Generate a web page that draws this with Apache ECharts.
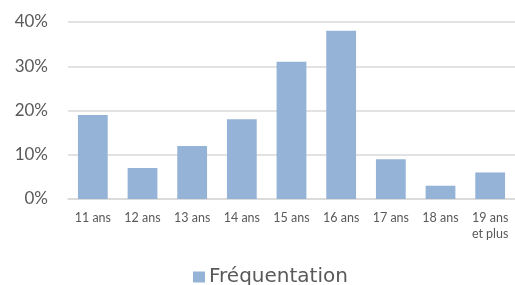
<!DOCTYPE html>
<html><head><meta charset="utf-8">
<script src="https://cdn.jsdelivr.net/npm/echarts@6/dist/echarts.min.js"></script>
<style>html,body{margin:0;padding:0;background:#fff}#c{width:515px;height:285px}</style>
</head><body><div id="c"></div>
<script>
const categories = ['11 ans','12 ans','13 ans','14 ans','15 ans','16 ans','17 ans','18 ans','19 ans\net plus'];
const values = [19, 7, 12, 18, 31, 38, 9, 3, 6];
const seriesName = 'Fréquentation';
const yTicks = [0, 10, 20, 30, 40];

const chart = echarts.init(document.getElementById('c'));
chart.setOption({
  animation: false,
  textStyle: {fontFamily: 'Lato, "DejaVu Sans", sans-serif'},
  grid: {left: 68, top: 22, width: 450, height: 177},
  legend: {
    data: [seriesName], top: 267, left: 193, icon: 'rect',
    itemWidth: 12, itemHeight: 11, itemGap: 5, padding: 0,
    textStyle: {fontSize: 20, color: '#595959', fontFamily: '"DejaVu Sans", sans-serif', padding: [2,0,0,-1]}
  },
  xAxis: {
    type: 'category', data: categories,
    axisLine: {lineStyle: {color: '#d9d9d9', width: 1.5}},
    axisTick: {show: false},
    axisLabel: {color: '#595959', fontSize: 12.5, margin: 11, lineHeight: 16, interval: 0}
  },
  yAxis: {
    type: 'value', min: yTicks[0], max: yTicks[yTicks.length-1], interval: 10,
    axisLine: {show: false}, axisTick: {show: false},
    splitLine: {lineStyle: {color: '#d9d9d9', width: 1.5}},
    axisLabel: {formatter: '{value}%', color: '#595959', fontSize: 17, margin: 20}
  },
  series: [{
    name: seriesName, type: 'bar', data: values, barWidth: '60%',
    itemStyle: {color: '#95B3D7'}
  }]
});
</script></body></html>
